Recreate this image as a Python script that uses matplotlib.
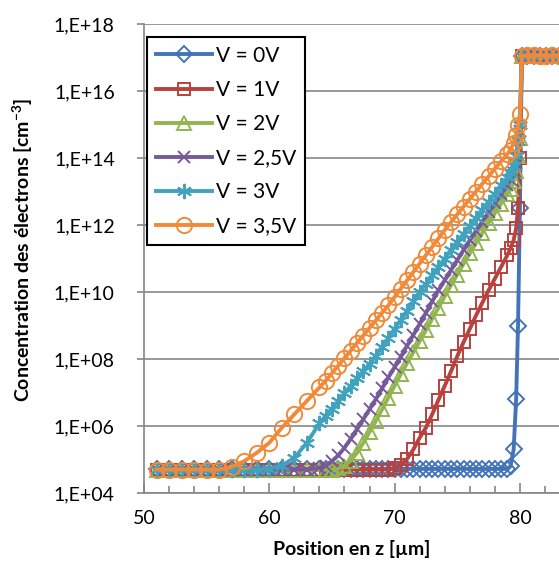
#Import libraries
import numpy as np
import matplotlib
matplotlib.use("Agg")
import matplotlib.pyplot as plt
from matplotlib.ticker import FixedLocator, FuncFormatter, NullLocator, MultipleLocator

#Fonts (Calibri-like look)
plt.rcParams["font.family"] = ["Lato", "DejaVu Sans"]
plt.rcParams["mathtext.fontset"] = "custom"
plt.rcParams["mathtext.rm"] = "Lato"
plt.rcParams["mathtext.bf"] = "Lato:bold"

#Position along z [um], shared by all series
x_um = [51, 52, 53, 54, 55, 56, 57, 58, 59, 60, 61, 62, 63, 64,
        64.5, 65, 65.5, 66, 66.5, 67, 67.5, 68, 68.5, 69, 69.5, 70, 70.5, 71, 71.5,
        72, 72.5, 73, 73.5, 74, 74.5, 75, 75.5, 76, 76.5, 77, 77.5, 78, 78.5, 79,
        79.25, 79.5, 79.7, 79.85, 80.0,
        80.15, 80.6, 81.1, 81.6, 82.1, 82.6, 83.1, 83.6]

#Electron concentration, log10 of cm-3
log_n_0V = [4.72, 4.72, 4.72, 4.72, 4.72, 4.72, 4.72, 4.72, 4.72, 4.72, 4.72, 4.72, 4.72, 4.72,
            4.72, 4.72, 4.72, 4.72, 4.72, 4.72, 4.72, 4.72, 4.72, 4.72, 4.72, 4.72, 4.72, 4.72, 4.72,
            4.72, 4.72, 4.72, 4.72, 4.72, 4.72, 4.72, 4.72, 4.72, 4.72, 4.72, 4.72, 4.72, 4.72, 4.72,
            4.80, 5.30, 6.80, 9.00, 12.50,
            17.05, 17.05, 17.05, 17.05, 17.05, 17.05, 17.05, 17.05]
log_n_1V = [4.70, 4.70, 4.70, 4.70, 4.70, 4.70, 4.70, 4.70, 4.70, 4.70, 4.70, 4.70, 4.70, 4.70,
            4.70, 4.70, 4.70, 4.70, 4.70, 4.70, 4.70, 4.70, 4.70, 4.70, 4.70, 4.75, 4.85, 5.02, 5.30,
            5.65, 5.95, 6.35, 6.78, 7.20, 7.63, 8.08, 8.50, 8.90, 9.30, 9.68, 10.05, 10.40, 10.75, 11.10,
            11.30, 11.55, 11.90, 12.50, 14.00,
            17.05, 17.05, 17.05, 17.05, 17.05, 17.05, 17.05, 17.05]
log_n_2V = [4.70, 4.70, 4.70, 4.70, 4.70, 4.70, 4.70, 4.70, 4.70, 4.70, 4.70, 4.70, 4.70, 4.70,
            4.70, 4.70, 4.74, 4.82, 4.97, 5.20, 5.50, 5.82, 6.15, 6.50, 6.85, 7.20, 7.55, 7.88, 8.20,
            8.53, 8.86, 9.20, 9.53, 9.87, 10.20, 10.52, 10.84, 11.15, 11.46, 11.76, 12.06, 12.35, 12.64, 12.93,
            13.08, 13.30, 13.60, 14.05, 14.60,
            17.05, 17.05, 17.05, 17.05, 17.05, 17.05, 17.05, 17.05]
log_n_25V = [4.70, 4.70, 4.70, 4.70, 4.70, 4.70, 4.70, 4.70, 4.70, 4.70, 4.70, 4.70, 4.70, 4.75,
             4.82, 4.95, 5.12, 5.35, 5.62, 5.90, 6.20, 6.50, 6.80, 7.12, 7.45, 7.76, 8.07, 8.40, 8.72,
             9.05, 9.38, 9.72, 10.05, 10.35, 10.65, 10.95, 11.25, 11.54, 11.83, 12.10, 12.38, 12.65, 12.92, 13.20,
             13.35, 13.55, 13.85, 14.30, 14.80,
             17.05, 17.05, 17.05, 17.05, 17.05, 17.05, 17.05, 17.05]
log_n_3V = [4.70, 4.70, 4.70, 4.70, 4.70, 4.70, 4.70, 4.70, 4.70, 4.73, 4.82, 5.05, 5.50, 6.08,
            6.30, 6.52, 6.75, 6.98, 7.20, 7.42, 7.64, 7.86, 8.10, 8.36, 8.62, 8.90, 9.17, 9.44, 9.72,
            10.00, 10.25, 10.50, 10.75, 11.00, 11.25, 11.50, 11.74, 11.98, 12.22, 12.46, 12.70, 12.94, 13.18, 13.42,
            13.56, 13.75, 14.05, 14.50, 15.00,
            17.05, 17.05, 17.05, 17.05, 17.05, 17.05, 17.05, 17.05]
log_n_35V = [4.70, 4.70, 4.70, 4.70, 4.70, 4.70, 4.78, 4.95, 5.20, 5.50, 5.95, 6.35, 6.75, 7.15,
             7.35, 7.58, 7.80, 8.03, 8.25, 8.48, 8.70, 8.93, 9.15, 9.38, 9.60, 9.85, 10.10, 10.35, 10.60,
             10.85, 11.10, 11.35, 11.60, 11.85, 12.08, 12.32, 12.55, 12.78, 13.00, 13.23, 13.45, 13.68, 13.90, 14.12,
             14.25, 14.45, 14.70, 15.00, 15.30,
             17.05, 17.06, 17.06, 17.05, 17.05, 17.06, 17.05, 17.05]

labels = ["V = 0V", "V = 1V", "V = 2V", "V = 2,5V", "V = 3V", "V = 3,5V"]
y_ticks = [1e4, 1e6, 1e8, 1e10, 1e12, 1e14, 1e16, 1e18]

#Excel-like line colours and markers
styles = [
    (log_n_0V, "#4374B7", "D", 8),
    (log_n_1V, "#B9413E", "s", 9),
    (log_n_2V, "#92B550", "^", 10),
    (log_n_25V, "#74599B", "x", 9),
    (log_n_3V, "#40A2BE", (6, 2, 0), 11),
    (log_n_35V, "#F08A38", "o", 11),
]

fig = plt.figure(figsize=(5.59, 5.65), dpi=100)
ax = fig.add_axes([144 / 559, 72 / 565, 415 / 559, 469 / 565])

for (logs, color, marker, ms), label in zip(styles, labels):
    ax.plot(x_um, 10 ** np.array(logs), color=color, lw=2.8, marker=marker,
            ms=ms, mfc="none", mec=color, mew=1.4, label=label)

#Axes setup
ax.set_yscale("log")
ax.set_ylim(1e4, 1e18)
ax.set_xlim(50, 83.12)
ax.yaxis.set_major_locator(FixedLocator(y_ticks))
ax.yaxis.set_minor_locator(NullLocator())
ax.yaxis.set_major_formatter(FuncFormatter(lambda v, p: "1,E+%02d" % round(np.log10(v))))
ax.xaxis.set_major_locator(MultipleLocator(10))
ax.xaxis.set_minor_locator(MultipleLocator(2))

grey = "#868686"
ax.grid(axis="y", color=grey, lw=1.2)
ax.set_axisbelow(True)
for side in ["top", "right"]:
    ax.spines[side].set_visible(False)
for side in ["left", "bottom"]:
    ax.spines[side].set_color(grey)
    ax.spines[side].set_linewidth(1.2)

ax.tick_params(axis="x", which="major", direction="in", length=7, width=1.2, color=grey,
               labelsize=14, pad=12)
ax.tick_params(axis="x", which="minor", direction="in", length=5, width=1.2, color=grey)
ax.tick_params(axis="y", which="major", direction="out", length=5, width=1.2, color=grey,
               labelsize=14, pad=16)

ax.set_xlabel("Position en z [µm]", fontweight="bold", fontsize=14)
ax.set_ylabel(r"Concentration des électrons [cm$^{\mathbf{-3}}$]", fontweight="bold", fontsize=14)
ax.xaxis.set_label_coords(0.5, -0.10)
ax.yaxis.set_label_coords(-0.263, 0.518)

#Legend
leg = ax.legend(loc="upper left", bbox_to_anchor=(147 / 559, 1 - 37 / 565),
                bbox_transform=fig.transFigure, frameon=True, fancybox=False,
                edgecolor="black", framealpha=1, handlelength=2.7, handletextpad=0.2,
                labelspacing=0.68, borderpad=0.42, borderaxespad=0, numpoints=1, fontsize=15)
leg.get_frame().set_linewidth(1.5)

#Save
fig.savefig("out.png", dpi=100)
